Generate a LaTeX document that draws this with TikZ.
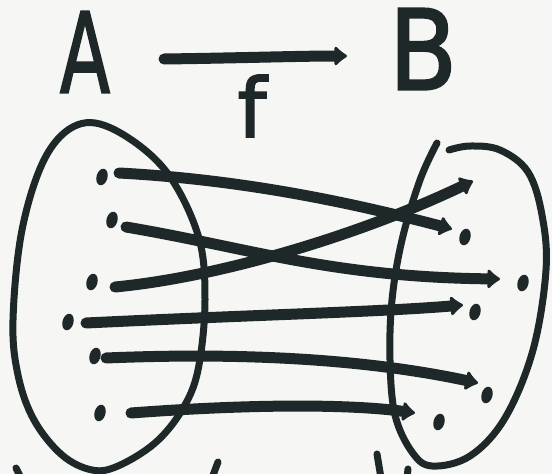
\documentclass[tikz,border=0pt]{standalone}
\usepackage{fontspec}
\newfontfamily\hand[FakeBold=2]{DejaVu Sans}
\usetikzlibrary{arrows.meta,shapes.geometric}
\definecolor{ink}{HTML}{1E2828}
\definecolor{paper}{HTML}{F6F6F4}
\begin{document}
\begin{tikzpicture}[x=1pt,y=-1pt,
  every node/.style={inner sep=0pt, outer sep=0pt},
  letter/.style={text=ink},
  dot/.style={ellipse, fill=ink, minimum width=11pt, minimum height=17pt, rotate=-15},
  mapline/.style={draw=ink, line width=11pt, line cap=round, -{Latex[length=14pt,width=24pt,round]}},
  setline/.style={draw=ink, line width=7pt, line cap=round, line join=round},
]
\fill[paper] (0,0) rectangle (552,474);
\useasboundingbox (0,0) rectangle (552,474);

% labels
\node[letter, font=\hand\fontsize{111}{111}\selectfont] (A) at (85,52) {\scalebox{0.66}[1]{A}};
\node[letter, font=\hand\fontsize{111}{111}\selectfont] (B) at (423,49) {\scalebox{0.9}[1]{B}};
\node[letter, font=\hand\fontsize{82}{82}\selectfont] (f) at (252,106) {f};

% function arrow
\coordinate (fs) at (164,59);
\coordinate (fe) at (347,56);
\draw[mapline] (fs) .. controls (240,58) and (300,56) .. (fe);

% set A
\draw[setline] plot[smooth cycle, tension=0.6] coordinates {(77,125) (115,130) (165,170) (198,235) (205,300) (198,370) (182,410) (155,443) (118,466) (92,470) (62,455) (34,420) (18,375) (13,320) (22,230) (45,158)};
% set B
\draw[setline] plot[smooth, tension=0.6] coordinates {(437,143) (420,180) (402,240) (392,300) (390,360) (395,415) (412,452) (432,466) (470,456) (505,418) (533,350) (546,270) (542,215) (528,172) (500,150) (470,146) (449,150)};

% elements of A
\node[dot] (a1) at (102,177) {};
\node[dot] (a2) at (112,220) {};
\node[dot] (a3) at (92,282) {};
\node[dot] (a4) at (68,322) {};
\node[dot] (a5) at (95,356) {};
\node[dot] (a6) at (100,413) {};
% elements of B
\node[dot] (b1) at (465,237) {};
\node[dot] (b2) at (523,283) {};
\node[dot] (b3) at (475,312) {};
\node[dot] (b4) at (487,395) {};
\node[dot] (b5) at (439,422) {};

% starts and ends of mapping lines
\coordinate (s1) at (119,173);
\coordinate (s2) at (126,227);
\coordinate (s3) at (115,287);
\coordinate (s4) at (86,323);
\coordinate (s5) at (106,358);
\coordinate (s6) at (131,413);
\coordinate (e1) at (452,229);
\coordinate (e2) at (500,279);
\coordinate (e3) at (473,181);
\coordinate (e4) at (463,305);
\coordinate (e5) at (478,383);
\coordinate (e6) at (415,413);

\draw[mapline] (s1) .. controls (250,180) and (360,205) .. (e1);
\draw[mapline] (s2) .. controls (250,248) and (330,277) .. (e2);
\draw[mapline] (s3) .. controls (220,277) and (360,235) .. (e3);
\draw[mapline] (s4) .. controls (250,315) and (380,312) .. (e4);
\draw[mapline] (s5) .. controls (250,352) and (370,360) .. (e5);
\draw[mapline] (s6) .. controls (250,404) and (350,404) .. (e6);

% cut-off marks at the bottom edge
\draw[setline] (16,468) -- (20,476);
\draw[setline] (218,462) -- (212,478);
\draw[setline] (377,454) -- (381,478);
\draw[setline] (408,469) -- (407,478);
\end{tikzpicture}
\end{document}
